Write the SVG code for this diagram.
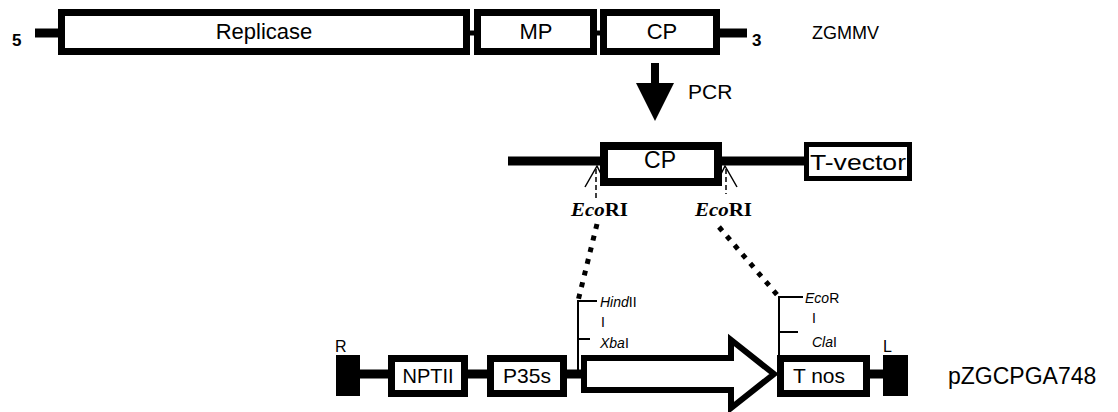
<svg xmlns="http://www.w3.org/2000/svg" width="1118" height="412" viewBox="0 0 1118 412">
<style>
text{font-family:"Liberation Sans",Arial,sans-serif;fill:#000}
.lbl{font-size:22px;text-anchor:middle}
.box{fill:#fff;stroke:#000;stroke-width:7}
.thin{fill:#fff;stroke:#000;stroke-width:5}
.bar{stroke:#000;stroke-width:9;fill:none}
.blk{fill:#000}
.num{font-size:17px;font-weight:bold}
.site{font-size:14px}
.eco{font-family:"Liberation Serif",serif;font-size:18px;font-weight:bold}
.tick{stroke:#000;stroke-width:2;fill:none}
.dash{stroke:#000;stroke-width:1.5;stroke-dasharray:5 3;fill:none}
.dots{stroke:#000;stroke-width:5;stroke-dasharray:5 7;fill:none}
</style>
<g id="connectors">
  <line class="bar" x1="35" y1="33" x2="62" y2="33"/>
  <line class="bar" x1="468" y1="33" x2="478" y2="33" style="stroke-width:5"/>
  <line class="bar" x1="594" y1="33" x2="604" y2="33" style="stroke-width:5"/>
  <line class="bar" x1="716" y1="33" x2="747" y2="33"/>
  <line x1="655" y1="63" x2="655" y2="86" stroke="#000" stroke-width="8"/>
  <polygon class="blk" points="636,83 674,83 655,121"/>
  <line class="bar" x1="508" y1="161" x2="604" y2="161"/>
  <line class="bar" x1="718" y1="161" x2="806" y2="161"/>
  <path class="tick" d="M585,187 L597,166 L602,176" style="stroke-width:1.5"/>
  <line class="dash" x1="596" y1="169" x2="596" y2="198"/>
  <path class="tick" d="M737,187 L725,166 L720,176" style="stroke-width:1.5"/>
  <line class="dash" x1="726" y1="169" x2="726" y2="194"/>
  <line class="dots" x1="597" y1="224" x2="578" y2="301"/>
  <line class="dots" x1="719" y1="227" x2="779" y2="297"/>
  <line class="bar" x1="356" y1="374" x2="392" y2="374"/>
  <line class="bar" x1="464" y1="374" x2="490" y2="374"/>
  <line class="bar" x1="564" y1="374" x2="584" y2="374"/>
  <line class="bar" x1="866" y1="374" x2="886" y2="374"/>
  <path class="tick" d="M578,374 V301 H597 M578,339 H590"/>
  <path class="tick" d="M779,356 V297 H803 M779,332 H798"/>
</g>
<g id="five"><text class="num" x="12" y="46">5</text></g>
<g id="replicase"><rect class="box" x="61.5" y="12.5" width="405" height="39"/><text class="lbl" x="264" y="39">Replicase</text></g>
<g id="mp"><rect class="box" x="477.5" y="12.5" width="116" height="39"/><text class="lbl" x="536" y="39">MP</text></g>
<g id="cp1"><rect class="box" x="603.5" y="12.5" width="113" height="39"/><text class="lbl" x="662" y="39">CP</text></g>
<g id="three"><text class="num" x="752" y="46">3</text></g>
<g id="zgmmv"><text x="812" y="39" style="font-size:18px">ZGMMV</text></g>
<g id="pcr"><text x="688" y="99" style="font-size:21px">PCR</text></g>
<g id="cp2"><rect x="604" y="146" width="114" height="36" fill="#fff" stroke="#000" stroke-width="8"/><text class="lbl" x="660" y="168" style="font-size:23px">CP</text></g>
<g id="tvector"><rect class="thin" x="806.5" y="144.5" width="103" height="34" /><text class="lbl" x="858" y="170" textLength="96" lengthAdjust="spacingAndGlyphs">T-vector</text></g>
<g id="ecori-left"><text class="eco" x="571" y="216" textLength="57" lengthAdjust="spacingAndGlyphs"><tspan font-style="italic">Eco</tspan>RI</text></g>
<g id="ecori-right"><text class="eco" x="695" y="216" textLength="57" lengthAdjust="spacingAndGlyphs"><tspan font-style="italic">Eco</tspan>RI</text></g>
<g id="r-border"><rect class="blk" x="336" y="355" width="24" height="41"/><text x="335" y="352" style="font-size:16px">R</text></g>
<g id="nptii"><rect class="box" x="391.5" y="358.5" width="73" height="35"/><text class="lbl" x="428" y="383" style="font-size:20px">NPTII</text></g>
<g id="p35s"><rect class="box" x="490.5" y="358.5" width="73" height="35"/><text class="lbl" x="527" y="383" style="font-size:21px">P35s</text></g>
<g id="cp-arrow"><path d="M584,358 H731 V340 L774,374 L731,408 V390 H584 Z" fill="#fff" stroke="#000" stroke-width="6"/></g>
<g id="sites-left"><text class="site" x="600" y="307"><tspan font-style="italic">Hind</tspan>II</text><text class="site" x="601" y="327">I</text><text class="site" x="600" y="348"><tspan font-style="italic">Xba</tspan>I</text></g>
<g id="sites-right"><text class="site" x="805" y="303"><tspan font-style="italic">Eco</tspan>R</text><text class="site" x="812" y="323">I</text><text class="site" x="812" y="347"><tspan font-style="italic">Cla</tspan>I</text></g>
<g id="tnos"><rect class="box" x="780.5" y="358.5" width="86" height="35"/><text x="793" y="383" style="font-size:21px" textLength="52">T nos</text></g>
<g id="l-border"><rect class="blk" x="883" y="355" width="25" height="41"/><text x="883" y="352" style="font-size:16px">L</text></g>
<g id="plasmid"><text x="948" y="384" style="font-size:23px">pZGCPGA748</text></g>
</svg>
